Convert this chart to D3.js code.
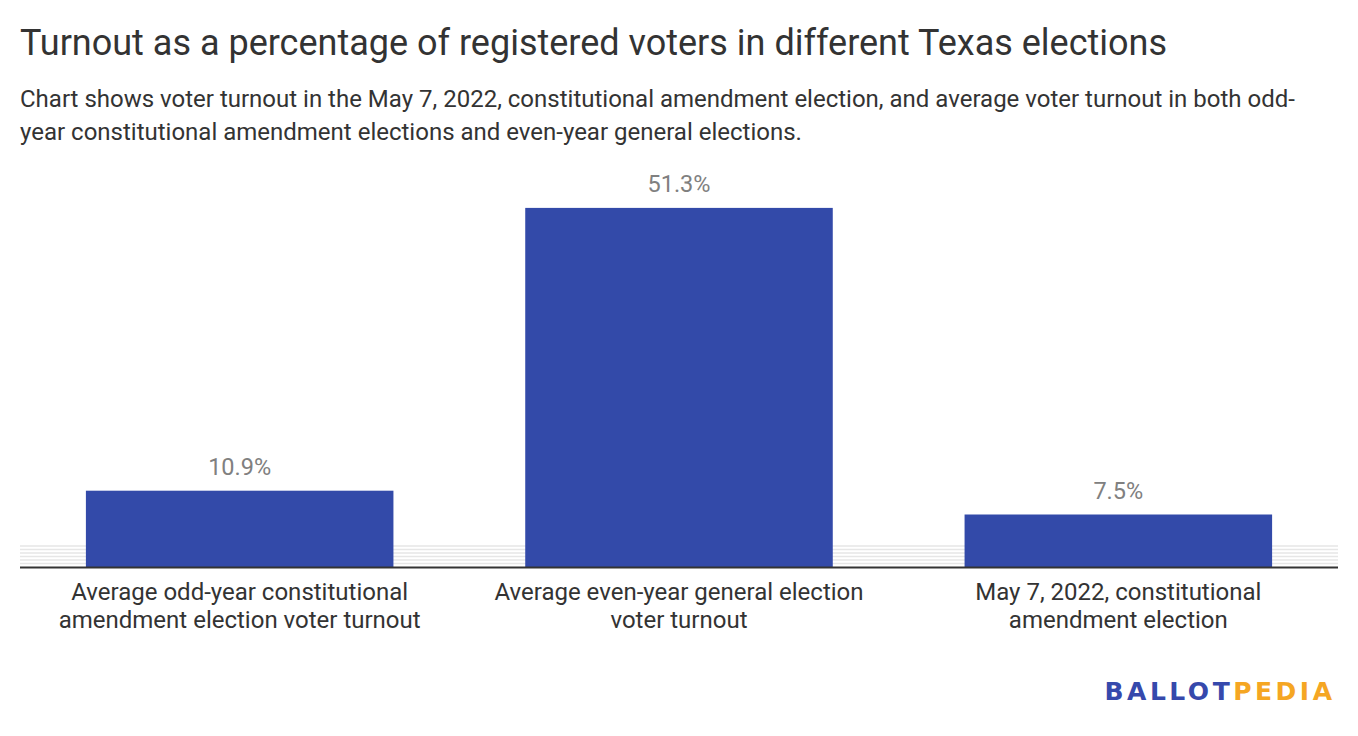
<!DOCTYPE html>
<html>
<head>
<meta charset="utf-8">
<script src="https://cdn.jsdelivr.net/npm/d3@7"></script>
<style>
  html, body { margin: 0; padding: 0; background: #fff; }
  svg { display: block; font-family: Roboto, "Noto Sans", sans-serif; }
</style>
</head>
<body>
<svg id="chart" width="1358" height="736"></svg>
<script>
// chart data
var categories = [
    ['Average odd-year constitutional', 'amendment election voter turnout'],
    ['Average even-year general election', 'voter turnout'],
    ['May 7, 2022, constitutional', 'amendment election']
];
var values = [10.9, 51.3, 7.5];
var gridValues = [0.5, 1, 1.5, 2, 2.5, 3];

var titleText = 'Turnout as a percentage of registered voters in different Texas elections';
var subtitleLines = [
    'Chart shows voter turnout in the May 7, 2022, constitutional amendment election, and average voter turnout in both odd-',
    'year constitutional amendment elections and even-year general elections.'
];

(function() {
    var svg = d3.select('#chart');

    var left = 20,
        right = 1338,
        baseY = 567,
        pxPerUnit = 7;

    var x = d3.scaleBand()
        .domain(d3.range(values.length))
        .range([left, right])
        .paddingInner(0.3)
        .paddingOuter(0.15);

    var y = d3.scaleLinear()
        .domain([0, 51.3])
        .range([baseY, baseY - 51.3 * pxPerUnit]);

    // title + subtitle
    svg.append('text')
        .attr('x', 20)
        .attr('y', 55)
        .style('font-size', '36px')
        .style('fill', '#333')
        .text(titleText);

    svg.selectAll('text.sub')
        .data(subtitleLines)
        .enter().append('text')
        .attr('class', 'sub')
        .attr('x', 20)
        .attr('y', function(d, i) { return 107 + i * 33; })
        .style('font-size', '24px')
        .style('fill', '#333')
        .text(function(d) { return d; });

    // faint gridlines near the baseline
    svg.append('g')
        .selectAll('line')
        .data(gridValues)
        .enter().append('line')
        .attr('x1', left)
        .attr('x2', right)
        .attr('y1', function(d) { return y(d); })
        .attr('y2', function(d) { return y(d); })
        .style('stroke', '#e6e6e6')
        .style('stroke-width', 1.6);

    // bars
    svg.append('g')
        .selectAll('rect')
        .data(values)
        .enter().append('rect')
        .attr('x', function(d, i) { return x(i); })
        .attr('y', function(d) { return y(d); })
        .attr('width', x.bandwidth())
        .attr('height', function(d) { return baseY - y(d); })
        .style('fill', '#334aa9');

    // value labels
    svg.append('g')
        .selectAll('text')
        .data(values)
        .enter().append('text')
        .attr('x', function(d, i) { return x(i) + x.bandwidth() / 2; })
        .attr('y', function(d) { return y(d) - 16; })
        .attr('text-anchor', 'middle')
        .style('font-size', '23.5px')
        .style('fill', '#808080')
        .text(function(d) { return d.toFixed(1) + '%'; });

    // baseline
    svg.append('line')
        .attr('x1', left)
        .attr('x2', right)
        .attr('y1', baseY + 0.5)
        .attr('y2', baseY + 0.5)
        .style('stroke', '#333')
        .style('stroke-width', 2);

    // category labels
    var cats = svg.append('g')
        .selectAll('text')
        .data(categories)
        .enter().append('text')
        .attr('text-anchor', 'middle')
        .style('font-size', '24px')
        .style('fill', '#333');

    cats.selectAll('tspan')
        .data(function(d, i) { return d.map(function(t) { return { t: t, i: i }; }); })
        .enter().append('tspan')
        .attr('x', function(d) { return x(d.i) + x.bandwidth() / 2; })
        .attr('y', function(d, j) { return 600 + j * 28; })
        .text(function(d) { return d.t; });

    // logo
    var logo = svg.append('text')
        .attr('x', 1335.5)
        .attr('y', 700)
        .attr('text-anchor', 'end')
        .style('font-family', '"DejaVu Sans", sans-serif')
        .style('font-weight', 700)
        .style('font-size', '25px')
        .style('letter-spacing', '3.5px');
    logo.append('tspan').style('fill', '#3649ac').text('BALLOT');
    logo.append('tspan').style('fill', '#f5a623').text('PEDIA');
})();
</script>
</body>
</html>
